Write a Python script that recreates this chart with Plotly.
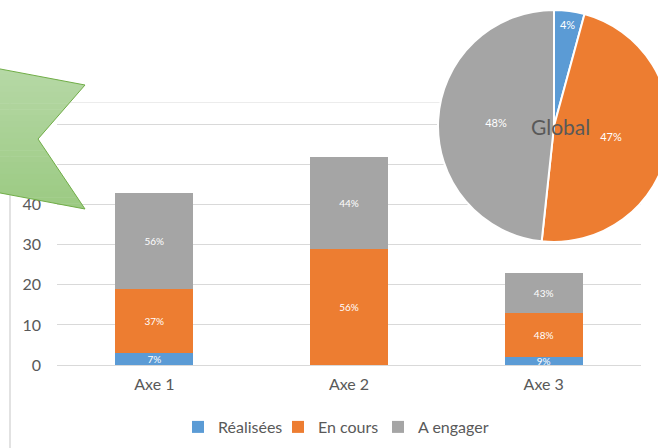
import plotly.graph_objects as go

# ---------------- data ----------------
categories = ["Axe 1", "Axe 2", "Axe 3"]
series_names = ["Réalisées", "En cours", "A engager"]
realisees = [3, 0, 2]
en_cours = [16, 29, 11]
a_engager = [24, 23, 10]
colors = ["#5B9BD5", "#ED7D31", "#A5A5A5"]
y_ticks = [0, 10, 20, 30, 40, 50, 60]
pie_title = "Global"

# ---------------- geometry helpers (pixels -> paper) ----------------
W, H = 670, 448


def px(x):
    return x / W


def py(y):
    return 1 - y / H


series = [realisees, en_cours, a_engager]
totals = [sum(v) for v in zip(*series)]
legend_widths = [55, 55, None]

fig = go.Figure()
for name, vals, col, lw in zip(series_names, series, colors, legend_widths):
    txt = [f"{int(v / t * 100 + 0.5)}%" if v > 0 else "" for v, t in zip(vals, totals)]
    fig.add_trace(go.Bar(
        x=categories, y=vals, name=name, marker=dict(color=col, line=dict(width=0)),
        text=txt, textposition="inside", insidetextanchor="middle", textangle=0,
        textfont=dict(color="white", size=10), hoverinfo="skip", legendwidth=lw,
    ))

pie_vals = [sum(v) for v in series]
fig.add_trace(go.Pie(
    values=pie_vals, labels=series_names, sort=False, direction="clockwise", rotation=0,
    marker=dict(colors=colors, line=dict(color="white", width=2)),
    texttemplate="%{percent:.0%}", textposition="inside", insidetextorientation="horizontal",
    textfont=dict(color="white", size=11), showlegend=False,
    domain=dict(x=[px(438), px(670)], y=[py(242), py(10)]),
))

ymax = 65.6
fig.update_layout(
    width=W, height=H, autosize=False,
    margin=dict(l=0, r=0, t=0, b=0),
    paper_bgcolor="white", plot_bgcolor="white",
    template="none",
    font=dict(family="Lato, Calibri, sans-serif", color="#595959", size=16),
    barmode="stack", bargap=0.6,
    uniformtext=dict(minsize=10, mode="show"),
    xaxis=dict(domain=[px(57), px(641)], showgrid=False, showline=False, ticks="",
               zeroline=False, ticklabelstandoff=8, tickfont=dict(size=16, color="#595959")),
    yaxis=dict(domain=[py(365), py(102)], range=[0, ymax], tickvals=y_ticks,
               showgrid=True, gridcolor="#D9D9D9", gridwidth=1, zeroline=True,
               zerolinecolor="#D9D9D9", zerolinewidth=1, showline=False, ticks="",
               ticklabelstandoff=15, tickfont=dict(size=16, color="#595959")),
    legend=dict(orientation="h", traceorder="normal", x=px(336), xanchor="center",
                y=py(427), yanchor="middle",
                font=dict(size=16, color="#595959"), bgcolor="rgba(0,0,0,0)"),
    showlegend=True,
)

# top border line of plot area
fig.add_shape(type="line", xref="x domain", yref="y", x0=0, x1=1, y0=ymax, y1=ymax,
              line=dict(color="#D9D9D9", width=1), layer="below")
# left border of chart frame
fig.add_shape(type="line", xref="paper", yref="paper", x0=px(10), x1=px(10), y0=py(95), y1=py(448),
              line=dict(color="#D9D9D9", width=1.5), layer="below")

# green arrow / flag shape with vertical gradient (banded)
pts = [(-5, 68), (85, 85), (38, 139), (85, 209), (-5, 192)]


def clip(poly, lo, hi):
    def cut(poly, keep, yb):
        out = []
        n = len(poly)
        for i in range(n):
            a, b = poly[i], poly[(i + 1) % n]
            ina, inb = keep(a[1]), keep(b[1])
            if ina:
                out.append(a)
            if ina != inb:
                t = (yb - a[1]) / (b[1] - a[1])
                out.append((a[0] + t * (b[0] - a[0]), yb))
        return out
    p = cut(poly, lambda y: y >= lo, lo)
    if p:
        p = cut(p, lambda y: y <= hi, hi)
    return p


def mix(c1, c2, t):
    a = [int(c1[i:i + 2], 16) for i in (1, 3, 5)]
    b = [int(c2[i:i + 2], 16) for i in (1, 3, 5)]
    return "#" + "".join(f"{round(x + (y - x) * t):02X}" for x, y in zip(a, b))


top_col, bot_col = "#B6D8A6", "#9BCA82"
ytop, ybot = 68, 209
nb = 24
for k in range(nb):
    lo = ytop + (ybot - ytop) * k / nb
    hi = ytop + (ybot - ytop) * (k + 1) / nb + 0.6
    band = clip(pts, lo, hi)
    if len(band) < 3:
        continue
    path = "M " + " L ".join(f"{px(x)},{py(y)}" for x, y in band) + " Z"
    fig.add_shape(type="path", xref="paper", yref="paper", path=path,
                  fillcolor=mix(top_col, bot_col, (k + 0.5) / nb), line=dict(width=0), layer="above")
path = "M " + " L ".join(f"{px(x)},{py(y)}" for x, y in pts) + " Z"
fig.add_shape(type="path", xref="paper", yref="paper", path=path,
              fillcolor="rgba(0,0,0,0)", line=dict(color="#70AD47", width=1), layer="above")

# pie title
fig.add_annotation(text=pie_title, x=px(560), y=py(127), xref="paper", yref="paper",
                   xanchor="center", yanchor="middle",
                   showarrow=False, font=dict(size=21, color="#595959"))

fig.write_html("out.html", config={"displayModeBar": False},
               post_script="document.body.style.overflow='hidden';document.documentElement.style.overflow='hidden';")
